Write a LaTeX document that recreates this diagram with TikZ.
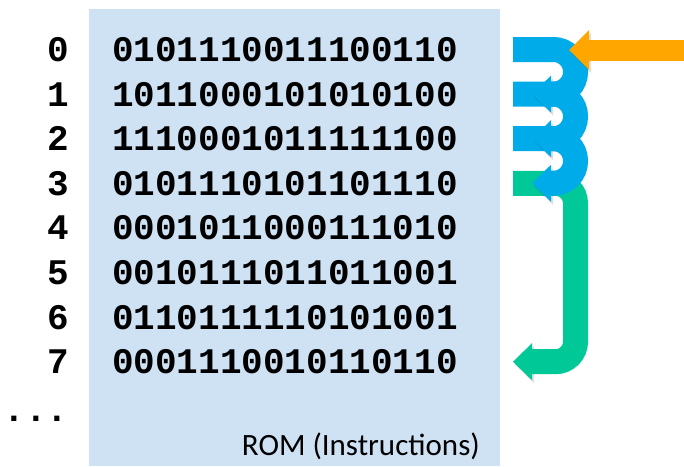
\documentclass[tikz,border=0pt]{standalone}
\usepackage{fontspec}
\setmonofont{Liberation Mono}
\setsansfont{Carlito}
\usepackage{tikz}
\usetikzlibrary{arrows.meta}

\definecolor{romblue}{RGB}{207,226,243}
\definecolor{stepblue}{RGB}{0,171,234}
\definecolor{jumpgreen}{RGB}{0,201,151}
\definecolor{pcorange}{RGB}{255,167,0}

\begin{document}
\begin{tikzpicture}[x=1pt,y=-1pt,
  addr/.style={anchor=base,inner sep=0pt,font=\fontsize{36}{36}\selectfont\ttfamily\bfseries},
  word/.style={addr},
  shadowed/.style={preaction={draw=black,opacity=.13,transform canvas={shift={(2pt,-3pt)}}}},
  flow/.style={shadowed,line width=25pt,-{Triangle[length=19pt,width=37pt,line width=0pt]}}]
  \useasboundingbox (0,0) rectangle (684,466);

  % ROM
  \fill[romblue] (89,9) rectangle (500,466);
  \node[anchor=base east,inner sep=0pt,font=\fontsize{31}{31}\selectfont\sffamily] (rom) at (480,455) {ROM (Instructions)};

  \node[addr] (a0) at (58,61.5) {0};
  \node[addr] (a1) at (58,106.1) {1};
  \node[addr] (a2) at (58,150.7) {2};
  \node[addr] (a3) at (58,195.3) {3};
  \node[addr] (a4) at (58,239.9) {4};
  \node[addr] (a5) at (58,284.5) {5};
  \node[addr] (a6) at (58,329.1) {6};
  \node[addr] (a7) at (58,373.7) {7};
  \node[addr] (more) at (36,421) {...};

  \node[word] (w0) at (285,61.5) {0101110011100110};
  \node[word] (w1) at (285,106.1) {1011000101010100};
  \node[word] (w2) at (285,150.7) {1110001011111100};
  \node[word] (w3) at (285,195.3) {0101110101101110};
  \node[word] (w4) at (285,239.9) {0001011000111010};
  \node[word] (w5) at (285,284.5) {0010111011011001};
  \node[word] (w6) at (285,329.1) {0110111110101001};
  \node[word] (w7) at (285,373.7) {0001110010110110};

  % program counter
  \coordinate (s0) at (513,49.5);
  \coordinate (s1) at (513,94.1);
  \coordinate (s2) at (513,138.7);
  \coordinate (s3) at (513,183.3);
  \coordinate (s7) at (513,361.7);
  \coordinate (pc) at (684,50);

  \draw[flow,jumpgreen,rounded corners=20pt]
    (s3) -- (575.5,183.3) -- (575.5,361.7) -- (s7);
  \draw[flow,stepblue,rounded corners=22pt]
    (s2) -- (575.5,138.7) -- (575.5,183.3) -- ([xshift=19pt]s3);
  \draw[flow,stepblue,rounded corners=22pt]
    (s1) -- (575.5,94.1) -- (575.5,138.7) -- ([xshift=19pt]s2);
  \draw[flow,stepblue,rounded corners=22pt]
    (s0) -- (575.5,49.5) -- (575.5,94.1) -- ([xshift=19pt]s1);
  \draw[shadowed,pcorange,line width=21pt,-{Triangle[length=20pt,width=40pt,line width=0pt]}]
    (pc) -- (569,50);
\end{tikzpicture}
\end{document}
